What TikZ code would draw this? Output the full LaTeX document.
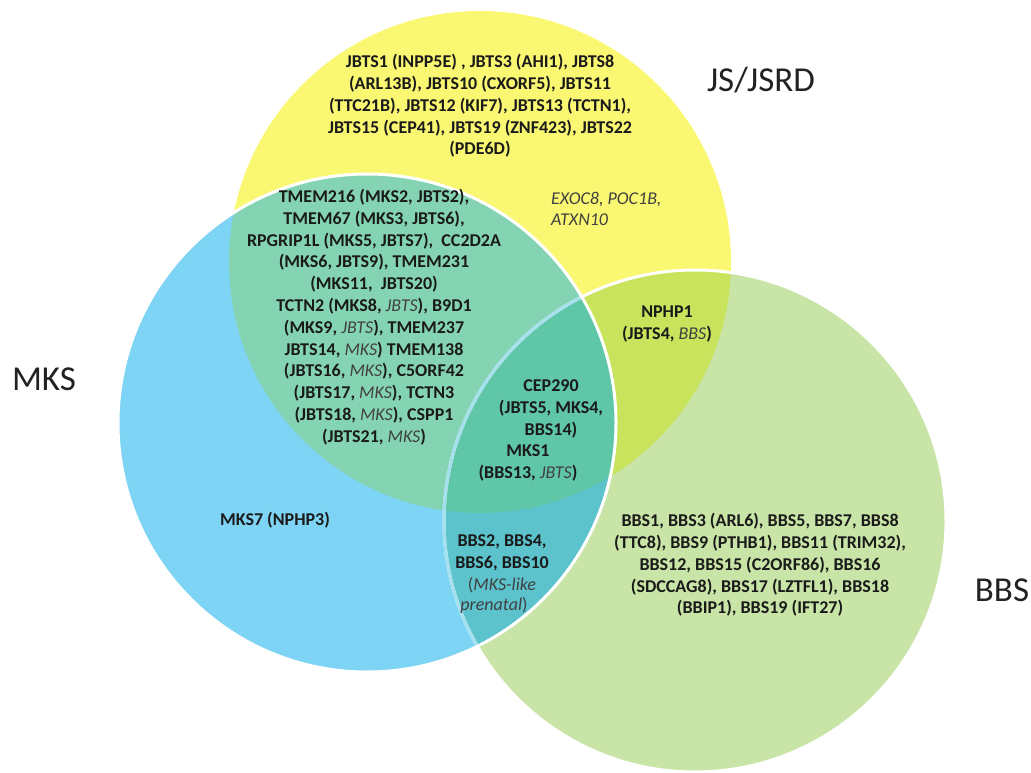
\documentclass[tikz,border=0pt]{standalone}
\usepackage{fontspec}
\setmainfont{Carlito}
\definecolor{ycol}{HTML}{FAF872}
\definecolor{bcol}{HTML}{7DD4F4}
\definecolor{gcol}{HTML}{C8E4A6}
\definecolor{ybcol}{HTML}{84D4B4}
\definecolor{ygcol}{HTML}{C9E35C}
\definecolor{bgcol}{HTML}{5CC2CC}
\definecolor{ybgcol}{HTML}{60C6A8}
\definecolor{edgeblue}{HTML}{A4E0EE}
\definecolor{txt}{HTML}{1A1A1A}
\definecolor{ital}{HTML}{404040}
\definecolor{lbl}{HTML}{222222}
\newcommand{\nb}[1]{{\mdseries\itshape\color{ital}#1}}
\def\radY{251pt}
\def\radB{249pt}
\def\radG{251pt}
\begin{document}
\begin{tikzpicture}[x=1pt,y=-1pt,
  genes/.style={font=\bfseries\fontsize{18}{21.8}\selectfont, text=txt, align=center, inner sep=0pt},
  extra/.style={font=\itshape\fontsize{18}{21.8}\selectfont, text=ital, align=left, inner sep=0pt},
  setlabel/.style={font=\fontsize{35}{40}\selectfont, text=lbl, inner sep=0pt},
  rim/.style={draw=white, line width=3pt}]
\useasboundingbox (0,0) rectangle (1031,773);
\coordinate (Y) at (480,262);
\coordinate (B) at (367,423);
\coordinate (G) at (695,521);

% single sets
\fill[ycol] (Y) circle[radius=\radY];
\fill[gcol] (G) circle[radius=\radG];
\fill[bcol] (B) circle[radius=\radB];
% pairwise overlaps
\begin{scope}
  \clip (Y) circle[radius=\radY];
  \fill[ybcol] (B) circle[radius=\radB];
  \fill[ygcol] (G) circle[radius=\radG];
\end{scope}
\begin{scope}
  \clip (B) circle[radius=\radB];
  \fill[bgcol] (G) circle[radius=\radG];
\end{scope}
% triple overlap
\begin{scope}
  \clip (Y) circle[radius=\radY];
  \clip (B) circle[radius=\radB];
  \fill[ybgcol] (G) circle[radius=\radG];
\end{scope}
% circle rims: the BBS rim shows light blue where MKS lies over it
\draw[rim] (G) circle[radius=\radG];
\begin{scope}
  \clip (B) circle[radius=\radB];
  \draw[edgeblue, line width=3pt] (G) circle[radius=\radG];
\end{scope}
\draw[rim] (B) circle[radius=\radB];

% set names
\node[setlabel] (lJS) at (761,80) {JS/JSRD};
\node[setlabel] (lMKS) at (44,379) {MKS};
\node[setlabel] (lBBS) at (1002,590) {BBS};

% gene lists
\node[genes] (jsonly) at (480,106) {JBTS1 (INPP5E) , JBTS3 (AHI1), JBTS8\\(ARL13B), JBTS10 (CXORF5), JBTS11\\(TTC21B), JBTS12 (KIF7), JBTS13 (TCTN1),\\JBTS15 (CEP41), JBTS19 (ZNF423), JBTS22\\(PDE6D)};
\node[extra, anchor=west] (jsextra) at (551,209) {EXOC8, POC1B,\\ATXN10};
\node[genes] (jsmks) at (374,317) {TMEM216 (MKS2, JBTS2),\\TMEM67 (MKS3, JBTS6),\\RPGRIP1L (MKS5, JBTS7),\ \ CC2D2A\\(MKS6, JBTS9), TMEM231\\(MKS11,\ \ JBTS20)\\TCTN2 (MKS8, \nb{JBTS}), B9D1\\(MKS9, \nb{JBTS}), TMEM237\\JBTS14, \nb{MKS}) TMEM138\\(JBTS16, \nb{MKS}), C5ORF42\\(JBTS17, \nb{MKS}), TCTN3\\(JBTS18, \nb{MKS}), CSPP1\\(JBTS21, \nb{MKS})};
\node[genes] (jsbbs) at (667,324) {NPHP1\\(JBTS4, \nb{BBS})};
\node[genes] (allthree) at (551,409) {CEP290\\(JBTS5, MKS4,\\BBS14)};
\node[genes] (mksone) at (528,463) {MKS1\\(BBS13, \nb{JBTS})};
\node[genes] (mksonly) at (275,520) {MKS7 (NPHP3)};
\node[genes] (mksbbs) at (502,564) {BBS2, BBS4,\\BBS6, BBS10\\{\mdseries\color{ital}(}\nb{MKS-like}};
\node[genes] (mksbbsb) at (494,605) {\nb{prenatal}{\mdseries\color{ital})}};
\node[genes] (bbsonly) at (760,565) {BBS1, BBS3 (ARL6), BBS5, BBS7, BBS8\\(TTC8), BBS9 (PTHB1), BBS11 (TRIM32),\\BBS12, BBS15 (C2ORF86), BBS16\\(SDCCAG8), BBS17 (LZTFL1), BBS18\\(BBIP1), BBS19 (IFT27)};
\end{tikzpicture}
\end{document}
